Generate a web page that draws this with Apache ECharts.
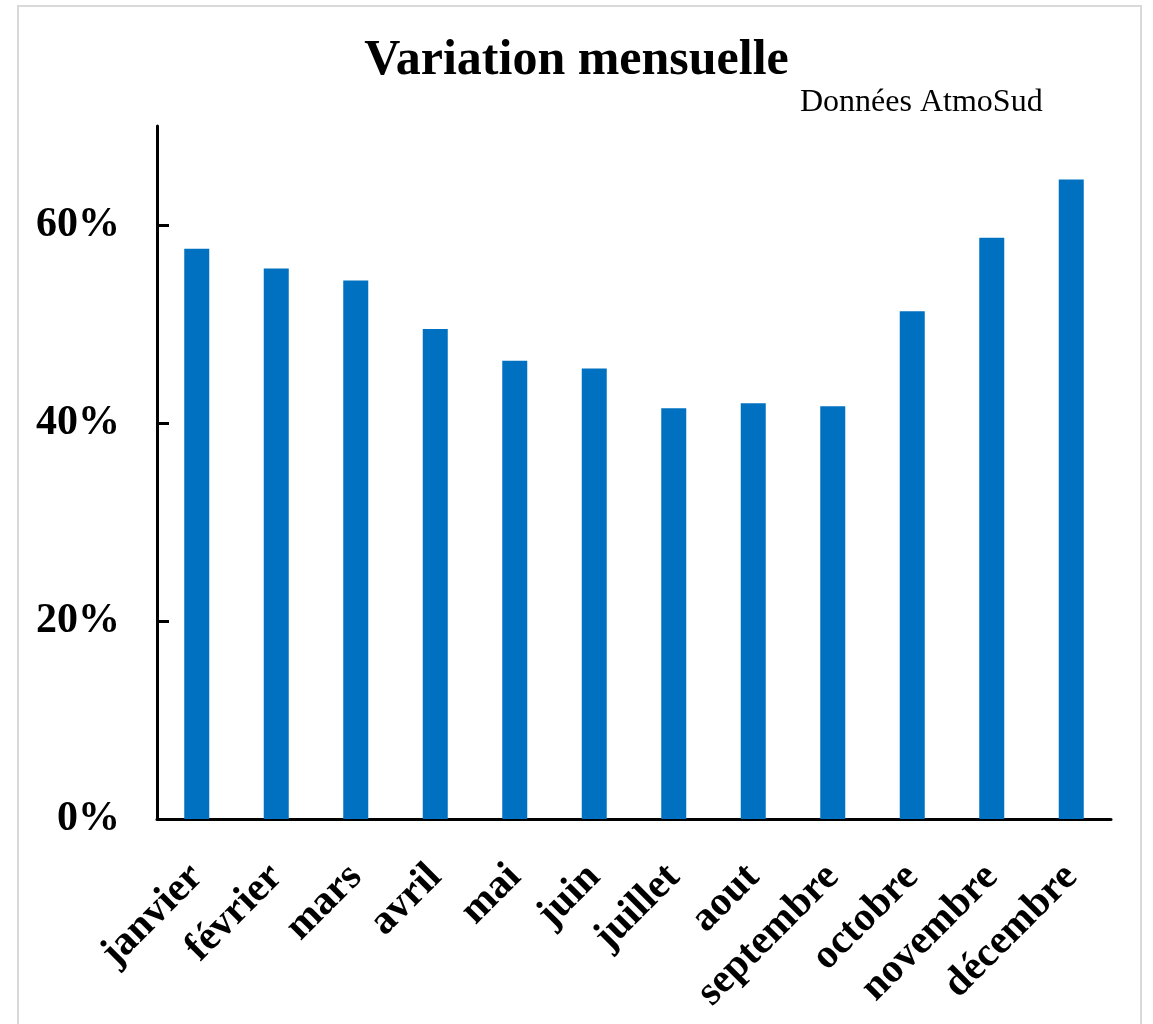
<!DOCTYPE html>
<html>
<head>
<meta charset="utf-8">
<script src="https://cdn.jsdelivr.net/npm/echarts@6/dist/echarts.min.js"></script>
<style>
html,body{margin:0;padding:0;background:#fff;}
#chart{width:1153px;height:1024px;}
</style>
</head>
<body>
<div id="chart"></div>
<script>
const months = ['janvier','février','mars','avril','mai','juin','juillet','aout','septembre','octobre','novembre','décembre'];
const values = [57.6, 55.6, 54.4, 49.5, 46.3, 45.5, 41.5, 42.0, 41.7, 51.3, 58.7, 64.6];
const yTicks = [0, 20, 40, 60];
const titleText = 'Variation mensuelle';
const sourceText = 'Données AtmoSud';

const serif = '"Times New Roman", "Liberation Serif", serif';
const chart = echarts.init(document.getElementById('chart'));
chart.setOption({
  animation: false,
  backgroundColor: '#fff',
  graphic: [{
    type: 'rect',
    shape: {x: 18, y: 6, width: 1123, height: 1040},
    style: {fill: 'none', stroke: '#d9d9d9', lineWidth: 2},
    silent: true
  }],
  title: [{
    text: titleText,
    left: 'center',
    top: 36,
    padding: 0,
    textStyle: {fontFamily: serif, fontWeight: 'bold', fontSize: 50, color: '#000'}
  }, {
    text: sourceText,
    left: 800,
    top: 87,
    padding: 0,
    textStyle: {fontFamily: serif, fontWeight: 'normal', fontSize: 32, color: '#000'}
  }],
  grid: {left: 157, right: 42, top: 126, bottom: 205, containLabel: false},
  xAxis: {
    type: 'category',
    data: months,
    axisLine: {lineStyle: {color: '#000', width: 3}},
    axisTick: {show: false},
    axisLabel: {
      rotate: 45,
      margin: 52,
      interval: 0,
      fontFamily: serif,
      fontWeight: 'bold',
      fontSize: 41,
      color: '#000'
    }
  },
  yAxis: {
    type: 'value',
    min: 0,
    max: 70,
    interval: 20,
    splitLine: {show: false},
    axisLine: {show: true, lineStyle: {color: '#000', width: 3}},
    axisTick: {show: true, inside: true, length: 12, lineStyle: {color: '#000', width: 3}, customValues: yTicks},
    axisLabel: {
      customValues: yTicks,
      margin: 37,
      formatter: v => v + '%',
      fontFamily: serif,
      fontWeight: 'bold',
      fontSize: 42,
      color: '#000'
    }
  },
  series: [{
    type: 'bar',
    data: values,
    barWidth: 25,
    itemStyle: {color: '#0070C0'}
  }]
});
</script>
</body>
</html>
